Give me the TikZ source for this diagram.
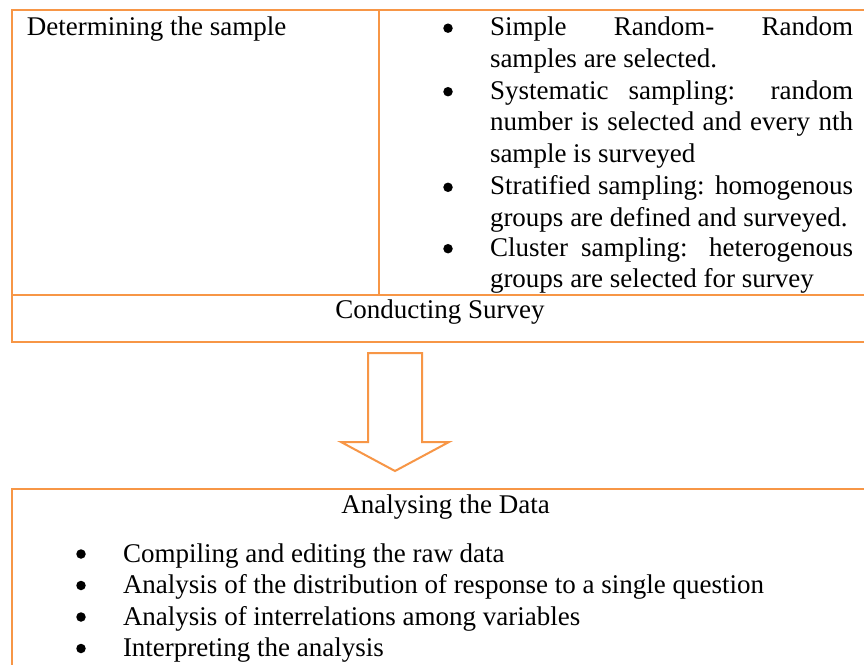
\documentclass[tikz,border=0pt]{standalone}
\usepackage{fontspec}
\setmainfont{Liberation Serif}
\definecolor{frameorange}{RGB}{247,150,70}
\tikzset{
  frame/.style={draw=frameorange, line width=2pt},
  txt/.style={inner sep=0pt, outer sep=0pt, font=\fontsize{27}{31.7}\selectfont},
  leftline/.style={txt, anchor=base west},
  midline/.style={txt, anchor=base},
  dot/.style={circle, fill=black, inner sep=0pt, minimum size=9.5pt},
}
% justified line and top-aligned bullet paragraph of the right column
\newcommand{\jline}[1]{\makebox[363pt][s]{#1}}
\newcommand{\itempar}[1]{\parbox[t]{363pt}{#1}}
\begin{document}
\begin{tikzpicture}[x=1pt, y=-1pt]
  \clip (0,0) rectangle (864,664);
  \fill[white] (0,0) rectangle (864,664);

  % upper table: two-column row plus a full-width row
  \draw[frame] (870,10) -- (12,10) -- (12,342) -- (870,342);
  \draw[frame] (12,295) -- (870,295);
  \draw[frame] (379,10) -- (379,295);

  \node[leftline] (determine) at (27,35) {Determining the sample};

  \node[dot] (b1) at (448,28.2) {};
  \node[leftline] (simple) at (490,35.7) {\itempar{\jline{Simple Random- Random}\\samples are selected.}};
  \node[dot] (b2) at (448,91.7) {};
  \node[leftline] (systematic) at (490,99.2) {\itempar{\jline{Systematic sampling: random}\\\jline{number is selected and every nth}\\sample is surveyed}};
  \node[dot] (b3) at (448,187.3) {};
  \node[leftline] (stratified) at (490,194.8) {\itempar{\jline{Stratified sampling: homogenous}\\groups are defined and surveyed.}};
  \node[dot] (b4) at (448,248.7) {};
  \node[leftline] (cluster) at (490,256.2) {\itempar{\jline{Cluster sampling: heterogenous}\\groups are selected for survey}};

  \node[midline] (survey) at (440,318) {Conducting Survey};

  % block arrow pointing down to the analysis box
  \draw[frame, line join=miter] (368,353) -- (422,353) -- (422,442) -- (449,442)
    -- (395,471) -- (341,442) -- (368,442) -- cycle;

  % lower box
  \draw[frame] (870,489) -- (12,489) -- (12,670);
  \node[midline] (analyse) at (445.5,513) {Analysing the Data};

  \node[dot] (c1) at (81,554) {};
  \node[leftline] (compile) at (123,562) {Compiling and editing the raw data};
  \node[dot] (c2) at (81,585.5) {};
  \node[leftline] (distrib) at (123,593.5) {Analysis of the distribution of response to a single question};
  \node[dot] (c3) at (81,617) {};
  \node[leftline] (inter) at (123,625) {Analysis of interrelations among variables};
  \node[dot] (c4) at (81,648.5) {};
  \node[leftline] (interp) at (123,656.5) {Interpreting the analysis};
\end{tikzpicture}
\end{document}
